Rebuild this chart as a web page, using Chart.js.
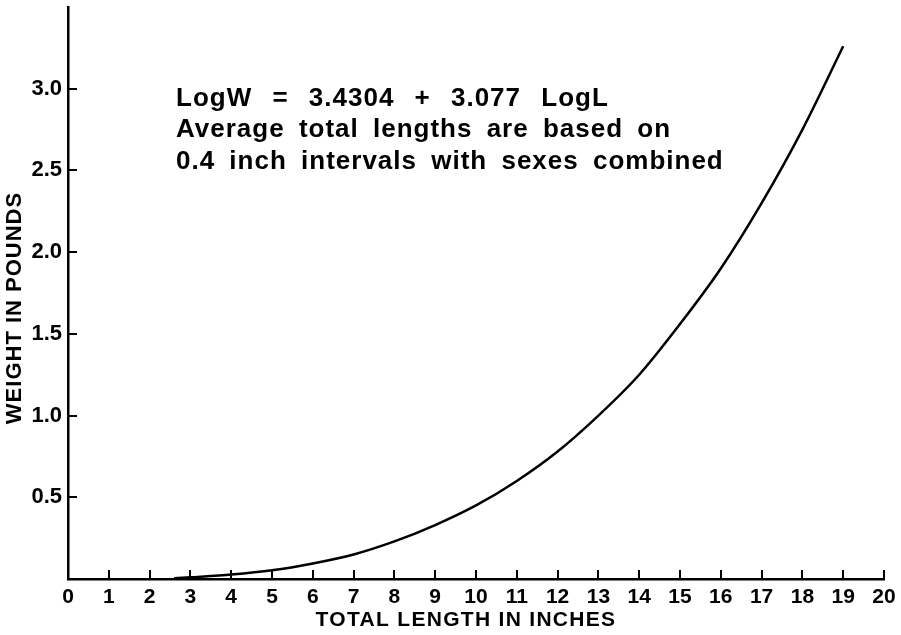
<!DOCTYPE html>
<html>
<head>
<meta charset="utf-8">
<script src="https://cdn.jsdelivr.net/npm/chart.js@4"></script>
<style>
  html, body { margin: 0; padding: 0; background: #fff; }
  #wrap { width: 901px; height: 635px; position: relative; }
</style>
</head>
<body>
<div id="wrap"><canvas id="chart"></canvas></div>
<script>
// Length (inches) and weight (pounds)
const lengths = [2.6, 3, 4, 5, 6, 7, 8, 9, 10, 11, 12, 13, 14, 15, 16, 17, 18, 19];
const weights = [0.004, 0.01, 0.027, 0.053, 0.095, 0.15, 0.23, 0.33, 0.45, 0.60, 0.78, 1.00, 1.25, 1.56, 1.90, 2.30, 2.75, 3.26];

const xTicks = [0, 1, 2, 3, 4, 5, 6, 7, 8, 9, 10, 11, 12, 13, 14, 15, 16, 17, 18, 19, 20];
const yTicks = [0.5, 1.0, 1.5, 2.0, 2.5, 3.0];

const xTitle = 'TOTAL LENGTH IN INCHES';
const yTitle = 'WEIGHT IN POUNDS';
const noteLines = [
    'LogW = 3.4304 + 3.077 LogL',
    'Average total lengths are based on',
    '0.4 inch intervals with sexes combined'
];

const FONT = '"Liberation Sans", Arial, Helvetica, sans-serif';

// tick marks drawn inside the plot, axis titles and the note text
const extras = {
    id: 'extras',
    afterDraw(chart) {
        const ctx = chart.ctx;
        const x = chart.scales.x, y = chart.scales.y;
        const area = chart.chartArea;
        ctx.save();
        ctx.strokeStyle = '#000';
        ctx.lineWidth = 2;
        xTicks.forEach(v => {
            if (v === 0) return;
            const px = Math.round(x.getPixelForValue(v));
            ctx.beginPath();
            ctx.moveTo(px, area.bottom);
            ctx.lineTo(px, area.bottom - 9);
            ctx.stroke();
        });
        yTicks.forEach(v => {
            const py = Math.round(y.getPixelForValue(v));
            ctx.beginPath();
            ctx.moveTo(area.left, py);
            ctx.lineTo(area.left + 9, py);
            ctx.stroke();
        });

        ctx.fillStyle = '#000';

        // x title
        ctx.font = 'bold 21px ' + FONT;
        ctx.letterSpacing = '1.3px';
        ctx.textAlign = 'center';
        ctx.textBaseline = 'alphabetic';
        ctx.fillText(xTitle, 466, 626);

        // y title
        ctx.save();
        ctx.translate(21, 308);
        ctx.rotate(-Math.PI / 2);
        ctx.font = 'bold 22px ' + FONT;
        ctx.letterSpacing = '1px';
        ctx.fillText(yTitle, 0, 0);
        ctx.restore();

        // note (first line has wider gaps round = and +)
        ctx.font = 'bold 26px ' + FONT;
        ctx.textAlign = 'left';
        ctx.letterSpacing = '1px';
        noteLines.forEach((t, i) => {
            ctx.wordSpacing = i === 0 ? '12px' : '6px';
            ctx.fillText(t, 176, 106 + i * 31.3);
        });
        ctx.restore();
    }
};

new Chart(document.getElementById('chart'), {
    type: 'line',
    data: {
        datasets: [{
            data: lengths.map((l, i) => ({ x: l, y: weights[i] })),
            borderColor: '#000',
            borderWidth: 2.5,
            pointRadius: 0,
            tension: 0.3,
            fill: false
        }]
    },
    options: {
        responsive: true,
        maintainAspectRatio: false,
        animation: false,
        layout: { padding: { top: 7, right: 17, left: 0, bottom: 0 } },
        plugins: {
            legend: { display: false },
            tooltip: { enabled: false }
        },
        scales: {
            x: {
                type: 'linear',
                min: 0,
                max: 20,
                afterBuildTicks(scale) { scale.ticks = xTicks.map(v => ({ value: v })); },
                afterFit(scale) {
                    scale.height = 56;
                    scale.paddingLeft = 0;
                    scale.paddingRight = 0;
                },
                grid: { display: false, drawTicks: false },
                border: { display: true, color: '#000', width: 2.5 },
                ticks: {
                    color: '#000',
                    padding: 6,
                    maxRotation: 0,
                    autoSkip: false,
                    font: { family: FONT, size: 21, weight: 'bold' }
                }
            },
            y: {
                type: 'linear',
                min: 0,
                max: 3.5,
                afterBuildTicks(scale) { scale.ticks = yTicks.map(v => ({ value: v })); },
                afterFit(scale) {
                    scale.width = 68;
                    scale.paddingTop = 0;
                    scale.paddingBottom = 0;
                },
                grid: { display: false, drawTicks: false },
                border: { display: true, color: '#000', width: 2.5 },
                ticks: {
                    color: '#000',
                    padding: 6,
                    font: { family: FONT, size: 22, weight: 'bold' },
                    callback: v => v.toFixed(1)
                }
            }
        }
    },
    plugins: [extras]
});
</script>
</body>
</html>
